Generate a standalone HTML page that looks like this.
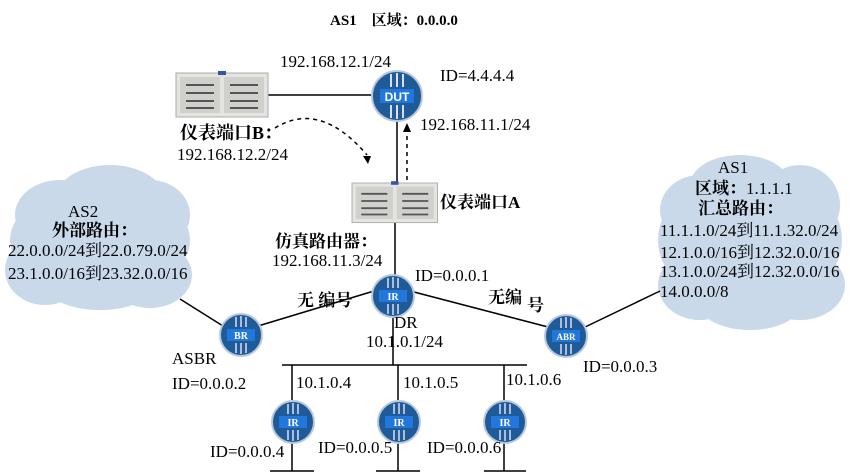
<!DOCTYPE html>
<html><head><meta charset="utf-8"><style>
html,body{margin:0;padding:0;background:#fff;}
svg{display:block;}
text{font-family:"Liberation Serif","Noto Serif CJK SC",serif;font-size:17px;fill:#000;}
.b{font-weight:bold;font-size:17px;}
.w{font-family:"Liberation Sans",sans-serif;font-weight:bold;fill:#fff;}
</style></head><body>
<svg width="850" height="476" viewBox="0 0 850 476">
<defs>
<g id="dev">
<rect x="0" y="0" width="92" height="44" fill="#e4e4e0" stroke="#aaa"/>
<rect x="4" y="4" width="40" height="36" fill="#d0d0cc"/>
<rect x="48" y="4" width="40" height="36" fill="#d0d0cc"/>
<g stroke="#555" stroke-width="2">
<line x1="10" y1="12" x2="38" y2="12"/><line x1="10" y1="20" x2="38" y2="20"/><line x1="10" y1="28" x2="38" y2="28"/><line x1="10" y1="35" x2="38" y2="35"/>
<line x1="54" y1="12" x2="82" y2="12"/><line x1="54" y1="20" x2="82" y2="20"/><line x1="54" y1="28" x2="82" y2="28"/><line x1="54" y1="35" x2="82" y2="35"/>
</g>
<rect x="42" y="-2" width="8" height="4" fill="#3355aa"/>
</g>
<g id="rb">
<circle r="21" fill="#1f5b98" stroke="#b8c8dc" stroke-width="2"/><rect x="-14" y="-6" width="28" height="12" fill="#2277dd"/><g stroke="#dde" stroke-width="1.5"><line x1="-5" y1="-18" x2="-5" y2="-8"/><line x1="0" y1="-19" x2="0" y2="-8"/><line x1="5" y1="-18" x2="5" y2="-8"/><line x1="-5" y1="8" x2="-5" y2="18"/><line x1="0" y1="8" x2="0" y2="19"/><line x1="5" y1="8" x2="5" y2="18"/></g>
</g>
</defs>

<g fill="#c9d9ea">
<ellipse cx="100" cy="240" rx="90" ry="55"/>
<ellipse cx="110" cy="200" rx="55" ry="35"/>
<ellipse cx="60" cy="215" rx="45" ry="35"/>
<ellipse cx="150" cy="215" rx="40" ry="35"/>
<ellipse cx="45" cy="270" rx="40" ry="35"/>
<ellipse cx="150" cy="275" rx="42" ry="33"/>
<ellipse cx="100" cy="285" rx="55" ry="25"/>
<ellipse cx="750" cy="240" rx="92" ry="70"/>
<ellipse cx="740" cy="185" rx="50" ry="30"/>
<ellipse cx="700" cy="210" rx="40" ry="35"/>
<ellipse cx="800" cy="205" rx="40" ry="40"/>
<ellipse cx="700" cy="285" rx="42" ry="35"/>
<ellipse cx="800" cy="285" rx="45" ry="35"/>
<ellipse cx="750" cy="305" rx="50" ry="25"/>
</g>

<g stroke="#000" stroke-width="1.5" fill="none">
<line x1="268" y1="95" x2="372" y2="95"/>
<line x1="397" y1="120" x2="397" y2="183"/>
<line x1="395" y1="222" x2="395" y2="280"/>
<line x1="374" y1="291" x2="258" y2="326"/>
<line x1="414" y1="292" x2="548" y2="327"/>
<line x1="223" y1="326" x2="180" y2="299"/>
<line x1="583" y1="328" x2="660" y2="291"/>
<line x1="393" y1="316" x2="393" y2="365"/>
<line x1="282" y1="365" x2="527" y2="365"/>
<line x1="292" y1="365" x2="292" y2="400"/>
<line x1="398" y1="365" x2="398" y2="400"/>
<line x1="504" y1="365" x2="504" y2="400"/>
<line x1="292" y1="443" x2="292" y2="471"/>
<line x1="398" y1="443" x2="398" y2="471"/>
<line x1="504" y1="443" x2="504" y2="471"/>
<line x1="270" y1="471" x2="314" y2="471"/>
<line x1="376" y1="471" x2="420" y2="471"/>
<line x1="484" y1="471" x2="526" y2="471"/>
<path d="M275 128 Q320 100 367 155" stroke-dasharray="4 4"/>
<line x1="407" y1="180" x2="407" y2="132" stroke-dasharray="4 4"/>
</g>
<polygon points="363,156 371,156 368,164" fill="#000"/>
<polygon points="403,132 411,132 407,123" fill="#000"/>

<use href="#dev" transform="translate(176,73)"/>
<use href="#dev" transform="translate(352,183) scale(0.93,0.9)"/>

<g transform="translate(397,96)"><circle r="25" fill="#1f5b98" stroke="#b8c8dc" stroke-width="2"/><rect x="-17" y="-7" width="34" height="14" fill="#2277dd"/><g stroke="#dde" stroke-width="2"><line x1="-6" y1="-22" x2="-6" y2="-9"/><line x1="0" y1="-23" x2="0" y2="-9"/><line x1="6" y1="-22" x2="6" y2="-9"/><line x1="-6" y1="9" x2="-6" y2="22"/><line x1="0" y1="9" x2="0" y2="23"/><line x1="6" y1="9" x2="6" y2="22"/></g><text x="0" y="5" text-anchor="middle" class="w" style="font-size:12px">DUT</text></g>
<g transform="translate(393,296)"><use href="#rb"/><text x="0" y="4" text-anchor="middle" class="w" style="font-size:10px;font-family:'Liberation Serif',serif">IR</text></g>
<g transform="translate(241,335)"><use href="#rb"/><text x="0" y="4" text-anchor="middle" class="w" style="font-size:10px;font-family:'Liberation Serif',serif">BR</text></g>
<g transform="translate(566,336)"><use href="#rb"/><text x="0" y="4" text-anchor="middle" class="w" style="font-size:9px;font-family:'Liberation Serif',serif">ABR</text></g>
<g transform="translate(293,422)"><use href="#rb"/><text x="0" y="4" text-anchor="middle" class="w" style="font-size:10px;font-family:'Liberation Serif',serif">IR</text></g>
<g transform="translate(399,422)"><use href="#rb"/><text x="0" y="4" text-anchor="middle" class="w" style="font-size:10px;font-family:'Liberation Serif',serif">IR</text></g>
<g transform="translate(505,422)"><use href="#rb"/><text x="0" y="4" text-anchor="middle" class="w" style="font-size:10px;font-family:'Liberation Serif',serif">IR</text></g>

<text x="330" y="25" class="b" style="font-size:15px">AS1　区域：0.0.0.0</text>
<text x="280" y="67">192.168.12.1/24</text>
<text x="440" y="81">ID=4.4.4.4</text>
<text x="180" y="139" class="b" style="font-size:18px">仪表端口B：</text>
<text x="177" y="160">192.168.12.2/24</text>
<text x="420" y="130">192.168.11.1/24</text>
<text x="440" y="208" class="b">仪表端口A</text>
<text x="275" y="247" class="b">仿真路由器：</text>
<text x="272" y="266">192.168.11.3/24</text>
<text x="415" y="281">ID=0.0.0.1</text>
<text x="297" y="306" class="b">无 编号</text>
<text x="488" y="303" class="b">无编</text>
<text x="527" y="311" class="b">号</text>
<text x="394" y="328">DR</text>
<text x="366" y="347">10.1.0.1/24</text>
<text x="172" y="364">ASBR</text>
<text x="172" y="389">ID=0.0.0.2</text>
<text x="583" y="372">ID=0.0.0.3</text>
<text x="296" y="388">10.1.0.4</text>
<text x="403" y="388">10.1.0.5</text>
<text x="506" y="385">10.1.0.6</text>
<text x="210" y="457">ID=0.0.0.4</text>
<text x="318" y="453">ID=0.0.0.5</text>
<text x="427" y="453">ID=0.0.0.6</text>
<text x="68" y="217">AS2</text>
<text x="52" y="236" class="b">外部路由：</text>
<text x="8" y="256">22.0.0.0/24到22.0.79.0/24</text>
<text x="8" y="279">23.1.0.0/16到23.32.0.0/16</text>
<text x="718" y="173">AS1</text>
<text x="695" y="194" class="b">区域：<tspan style="font-weight:normal">1.1.1.1</tspan></text>
<text x="698" y="214" class="b">汇总路由：</text>
<text x="660" y="236">11.1.1.0/24到11.1.32.0/24</text>
<text x="660" y="258">12.1.0.0/16到12.32.0.0/16</text>
<text x="660" y="277">13.1.0.0/24到12.32.0.0/16</text>
<text x="660" y="297">14.0.0.0/8</text>
</svg>
</body></html>
